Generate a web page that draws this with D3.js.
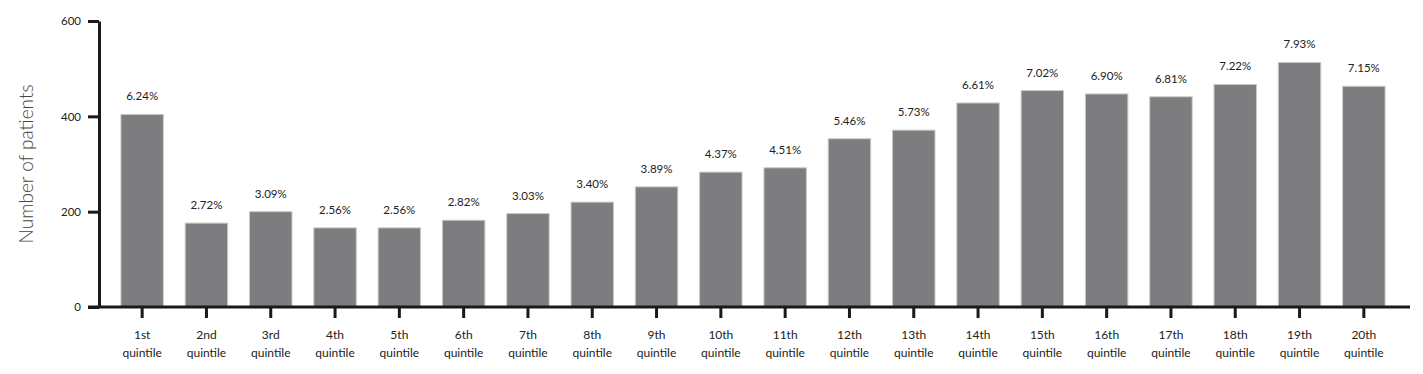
<!DOCTYPE html>
<html>
<head>
<meta charset="utf-8">
<script src="https://cdn.jsdelivr.net/npm/d3@7"></script>
<style>
  body { margin: 0; background: #fff; }
  text { font-family: "Lato", "DejaVu Sans", sans-serif; }
</style>
</head>
<body>
<svg id="chart" width="1423" height="374"></svg>
<script>
var width = 1423;
var height = 374;

var categories = ["1st", "2nd", "3rd", "4th", "5th", "6th", "7th", "8th", "9th", "10th",
                  "11th", "12th", "13th", "14th", "15th", "16th", "17th", "18th", "19th", "20th"];
var patients = [404, 176, 200, 166, 166, 182, 196, 220, 252, 283,
                292, 353, 371, 428, 454, 447, 441, 467, 513, 463];
var percents = ["6.24%", "2.72%", "3.09%", "2.56%", "2.56%", "2.82%", "3.03%", "3.40%", "3.89%", "4.37%",
                "4.51%", "5.46%", "5.73%", "6.61%", "7.02%", "6.90%", "6.81%", "7.22%", "7.93%", "7.15%"];
var yTicks = [0, 200, 400, 600];

var margin = { left: 99, right: 13, top: 21, bottom: 67 };

var svg = d3.select("#chart");

var x = d3.scaleBand()
    .domain(categories)
    .range([110, 1396])
    .paddingInner(0.34)
    .paddingOuter(0.17);

var y = d3.scaleLinear()
    .domain([0, 600])
    .range([height - margin.bottom, margin.top]);

// bars
svg.append("g")
  .selectAll("rect")
  .data(categories)
  .enter()
  .append("rect")
  .attr("x", function (d) { return x(d); })
  .attr("width", x.bandwidth())
  .attr("y", function (d, i) { return y(patients[i]); })
  .attr("height", function (d, i) { return y(0) - y(patients[i]); })
  .style("fill", "#7d7d7f")
  .attr("stroke", "#c9c9c9")
  .attr("stroke-width", 1);

// percentage labels
svg.append("g")
  .selectAll("text")
  .data(categories)
  .enter()
  .append("text")
  .attr("x", function (d) { return x(d) + x.bandwidth() / 2; })
  .attr("y", function (d, i) { return y(patients[i]) - 14; })
  .attr("text-anchor", "middle")
  .style("font-size", "11.5px")
  .style("fill", "#222")
  .text(function (d, i) { return percents[i]; });

// y axis
var yAxis = svg.append("g")
  .attr("transform", "translate(" + margin.left + ",0)")
  .call(d3.axisLeft(y).tickValues(yTicks).tickSize(11).tickSizeOuter(0).tickPadding(7));
yAxis.select(".domain").attr("stroke", "#1a1a1a").attr("stroke-width", 3);
yAxis.selectAll(".tick line").attr("stroke", "#1a1a1a").attr("stroke-width", 3);
yAxis.selectAll(".tick text").style("font-size", "11.5px").style("fill", "#222")
  .style("font-family", "Lato, 'DejaVu Sans', sans-serif");

// x axis
var xAxis = svg.append("g")
  .attr("transform", "translate(0," + y(0) + ")")
  .call(d3.axisBottom(x).tickSize(11).tickSizeOuter(0).tickFormat(""));
xAxis.select(".domain").attr("d", "M88,0H1410").attr("stroke", "#1a1a1a").attr("stroke-width", 3);
xAxis.selectAll(".tick line").attr("stroke", "#1a1a1a").attr("stroke-width", 3);

var lbl = xAxis.selectAll(".tick")
  .append("text")
  .attr("text-anchor", "middle")
  .style("font-size", "12px")
  .style("fill", "#222");
lbl.append("tspan").attr("x", 0).attr("y", 32).text(function (d) { return d; });
lbl.append("tspan").attr("x", 0).attr("y", 50).text("quintile");

// y title
svg.append("text")
  .attr("transform", "translate(33," + ((y(0) + y(600)) / 2) + ") rotate(-90)")
  .attr("text-anchor", "middle")
  .style("font-size", "19px")
  .style("font-weight", "300")
  .style("fill", "#444")
  .text("Number of patients");
</script>
</body>
</html>
